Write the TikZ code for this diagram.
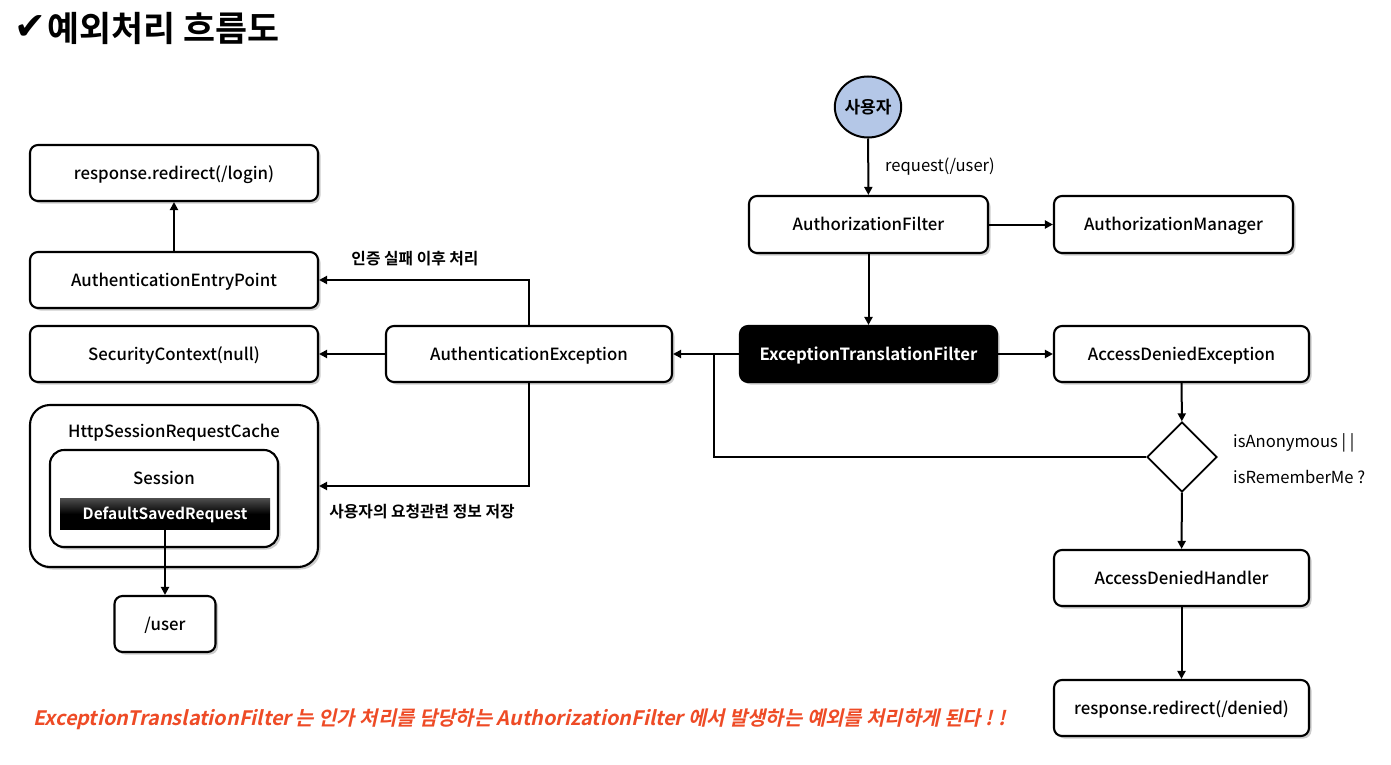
\documentclass[tikz,border=0pt]{standalone}
\usepackage{fontspec}
\setmainfont{Noto Sans CJK KR}
\newfontfamily\krmed{Noto Sans CJK KR Medium}
\newfontfamily\krbold{Noto Sans CJK KR Bold}
\newfontfamily\krslant[FakeSlant=0.22]{Noto Sans CJK KR Bold}
\newfontfamily\dejavu{DejaVu Sans}
\usetikzlibrary{shadows,shapes.geometric,arrows.meta}
\definecolor{userblue}{HTML}{B4C7E7}
\definecolor{notered}{HTML}{EE4B26}
\tikzset{
  box/.style={draw, line width=2.1pt, rounded corners=8pt, fill=white, minimum height=56pt,
    inner sep=0pt, text height=13pt, text depth=1pt, font=\krmed\fontsize{16.8}{18}\selectfont,
    drop shadow={shadow xshift=2.5pt, shadow yshift=-2.5pt, fill=black!40}},
  arr/.style={line width=2pt, -{Triangle[length=8pt,width=8pt]}},
  plain/.style={line width=2pt},
  lbl/.style={font=\krbold\fontsize{15.8}{18}\selectfont, inner sep=0pt},
  rlbl/.style={font=\fontsize{16.6}{18}\selectfont, inner sep=0pt, anchor=west},
}
\begin{document}
\begin{tikzpicture}[x=1pt,y=-1pt]
\useasboundingbox (0,0) rectangle (1391,765);
% title
\node[inner sep=0pt, font=\dejavu\fontsize{38}{40}\selectfont] (chk) at (30,28) {✔};
\node[anchor=west, inner sep=0pt, font=\krbold\fontsize{34.8}{38}\selectfont] (title) at (47,28) {예외처리 흐름도};
% left column
\node[box, minimum width=288pt] (login) at (174,173) {response.redirect(/login)};
\node[box, minimum width=288pt] (aep) at (174,280) {AuthenticationEntryPoint};
\node[box, minimum width=288pt] (sc) at (174,354) {SecurityContext(null)};
\node[box, rounded corners=20pt, minimum width=288pt, minimum height=162pt] (hsrc) at (174,486) {};
\node[font=\krmed\fontsize{16.8}{18}\selectfont, inner sep=0pt] (hsrct) at (174,433) {HttpSessionRequestCache};
\node[box, rounded corners=14pt, minimum width=228pt, minimum height=97pt] (sess) at (164,498.5) {};
\node[font=\krmed\fontsize{16.8}{18}\selectfont, inner sep=0pt] (sesst) at (164,478) {Session};
\node[minimum width=210pt, minimum height=31pt, inner sep=0pt, top color=black!70, bottom color=black, middle color=black,
  text=white, text height=12pt, text depth=1pt, font=\krbold\fontsize{15.5}{17}\selectfont] (dsr) at (165,514) {DefaultSavedRequest};
\node[box, minimum width=101pt] (user) at (165,624) {/user};
% middle
\node[box, minimum width=286pt] (authex) at (529,354) {AuthenticationException};
\node[box, minimum width=257pt, fill=black, text=white, font=\krbold\fontsize{16.8}{18}\selectfont] (etf) at (868.5,354) {ExceptionTranslationFilter};
\node[box, minimum width=239pt, minimum height=57pt] (authf) at (868.5,224.5) {AuthorizationFilter};
\node[box, minimum width=239pt, minimum height=57pt] (authm) at (1173.5,224.5) {AuthorizationManager};
\node[draw, ellipse, line width=2pt, fill=userblue, minimum width=60pt, minimum height=61pt, inner sep=0pt,
  font=\krbold\fontsize{17}{18}\selectfont] (usr) at (868,107) {사용자};
% right column
\node[box, minimum width=255pt] (ade) at (1181.5,354) {AccessDeniedException};
\node[draw, diamond, line width=1.7pt, fill=white, minimum width=70pt, minimum height=70pt, inner sep=0pt] (dia) at (1182,457) {};
\node[box, minimum width=255pt] (adh) at (1181.5,578) {AccessDeniedHandler};
\node[box, minimum width=255pt] (denied) at (1181.5,708) {response.redirect(/denied)};
% labels
\node[rlbl] (reql) at (885,167) {request(/user)};
\node[lbl] (failt) at (415,259) {인증 실패 이후 처리};
\node[lbl] (savet) at (422,512) {사용자의 요청관련 정보 저장};
\node[rlbl] (anon) at (1233,443) {isAnonymous | |};
\node[rlbl] (remb) at (1233,477) {isRememberMe ?};
% connectors
\draw[arr] (usr) -- (authf);
\draw[arr] (authf) -- (authm);
\draw[arr] (authf) -- (etf);
\draw[arr] (etf) -- (ade);
\draw[arr] (etf) -- (authex);
\draw[arr] (ade) -- (dia);
\draw[arr] (dia) -- (adh);
\draw[arr] (adh) -- (denied);
\coordinate (j) at (714,354);
\draw[plain] (dia.west) -| (j);
\draw[arr] (authex.north) |- (aep.east);
\draw[arr] (authex) -- (sc);
\draw[arr] (authex.south) |- (hsrc.east);
\draw[arr] (aep) -- (login);
\draw[arr] (dsr.south) -- (dsr.south |- user.north);
% note
\node[anchor=west, inner sep=0pt, text=notered, font=\krslant\fontsize{19.9}{22}\selectfont] (note) at (33,719)
  {ExceptionTranslationFilter 는 인가 처리를 담당하는 AuthorizationFilter 에서 발생하는 예외를 처리하게 된다 ! !};
\end{tikzpicture}
\end{document}
